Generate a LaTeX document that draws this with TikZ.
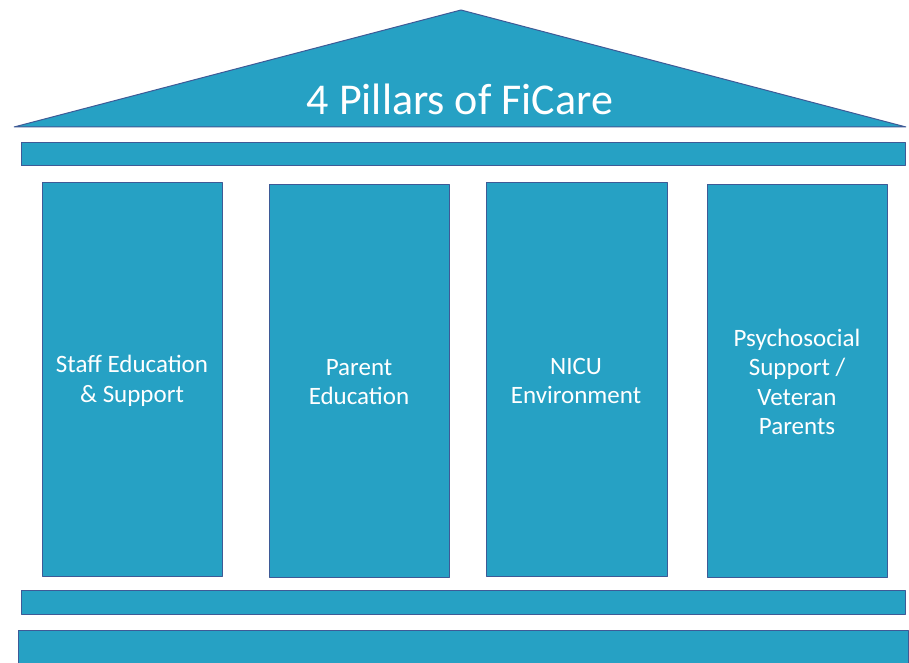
\documentclass[tikz,border=0pt]{standalone}
\usepackage{fontspec}
\setmainfont{Carlito}
\definecolor{pfill}{RGB}{38,161,196}
\definecolor{pline}{RGB}{62,90,150}
\begin{document}
\begin{tikzpicture}[x=1pt,y=-1pt,
  part/.style={fill=pfill,draw=pline,line width=1pt,line join=bevel},
  label/.style={text=white,font=\fontsize{25}{29.5}\selectfont,align=center}]
\useasboundingbox (0,0) rectangle (909,663);
\fill[white] (0,0) rectangle (909,663);
\draw[part] (14,127) coordinate (rl) -- (461,10) coordinate (rt) -- (906,127) coordinate (rr) -- cycle;
\node[text=white,font=\fontsize{44}{52}\selectfont] (title) at (460,99) {4 Pillars of FiCare};
\draw[part] (21,143) rectangle (905,166);
\draw[part] (42,182) rectangle (222,576);
\draw[part] (269,184) rectangle (449,577);
\draw[part] (486,182) rectangle (667,576);
\draw[part] (707,184) rectangle (887,577);
\node[label] (c1) at (132,381) {Staff Education\\\& Support};
\node[label] (c2) at (359,382) {Parent\\Education};
\node[label] (c3) at (576,381) {NICU\\Environment};
\node[label] (c4) at (797,382) {Psychosocial\\Support /\\Veteran\\Parents};
\draw[part] (21,590) rectangle (905,614);
\draw[part] (18,630) rectangle (908,670);
\end{tikzpicture}
\end{document}
